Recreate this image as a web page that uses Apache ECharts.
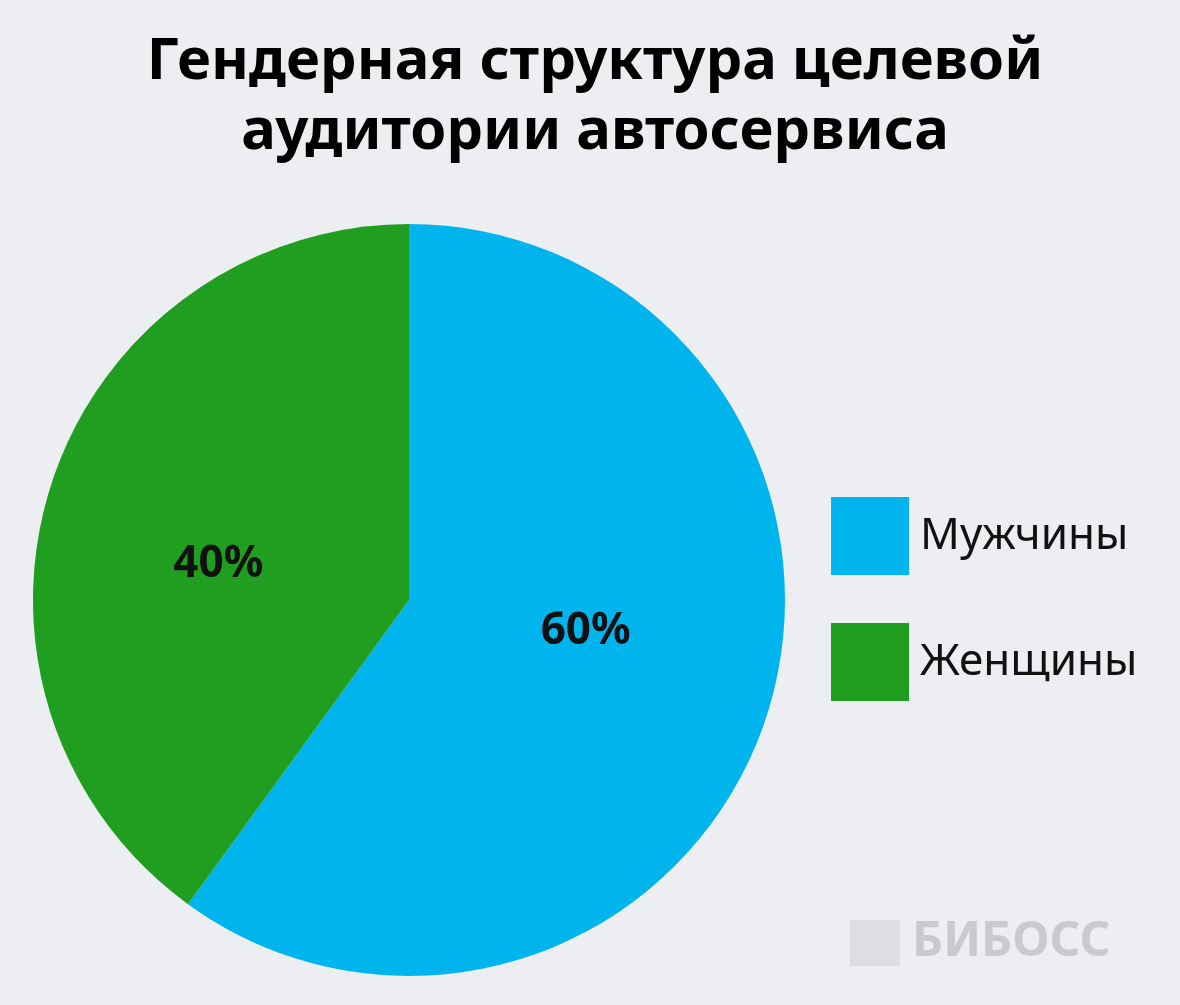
<!DOCTYPE html>
<html><head><meta charset="utf-8">
<script src="https://cdn.jsdelivr.net/npm/echarts@6/dist/echarts.min.js"></script>
<style>html,body{margin:0;padding:0;background:#eceef2}#c{width:1180px;height:1005px}</style>
</head><body><div id="c"></div>
<script>
const categories = ['Мужчины', 'Женщины'];
const values = [60, 40];
const colors = ['#00b4ee', '#1f9e1f'];
const labelOffsets = [[-5, -28], [-9, 23]];
const chart = echarts.init(document.getElementById('c'));
chart.setOption({
  backgroundColor: '#eceef2',
  title: {
    text: 'Гендерная структура целевой\nаудитории автосервиса',
    left: 590, top: 22, textAlign: 'center',
    textStyle: { fontFamily: 'Noto Sans', fontWeight: 'bold', fontSize: 58, lineHeight: 70, color: '#000' }
  },
  graphic: [{
    type: 'group', left: 850, top: 918,
    children: [
      { type: 'rect', shape: { x: 0, y: 2, width: 50, height: 46 }, style: { fill: '#dcdee2' } },
      { type: 'text', style: { x: 62, y: 0, text: 'БИБОСС', font: 'bold 48px "Noto Sans"', fill: '#c8cacd' } }
    ]
  }],
  legend: {
    orient: 'vertical', left: 826, top: 492,
    itemWidth: 78, itemHeight: 78, itemGap: 48, icon: 'rect',
    textStyle: { fontFamily: 'Noto Sans', fontSize: 44, color: '#111', padding: [0, 0, 0, 6] },
    data: categories
  },
  series: [{
    type: 'pie', center: [409, 600], radius: 376, startAngle: 90, clockwise: true,
    silent: true,
    label: { position: 'inside', formatter: '{c}%', fontFamily: 'Noto Sans', fontWeight: 'bold', fontSize: 44, color: '#111' },
    labelLine: { show: false },
    data: categories.map((n, i) => ({ name: n, value: values[i], itemStyle: { color: colors[i] }, label: { offset: labelOffsets[i] } }))
  }]
});
</script></body></html>
